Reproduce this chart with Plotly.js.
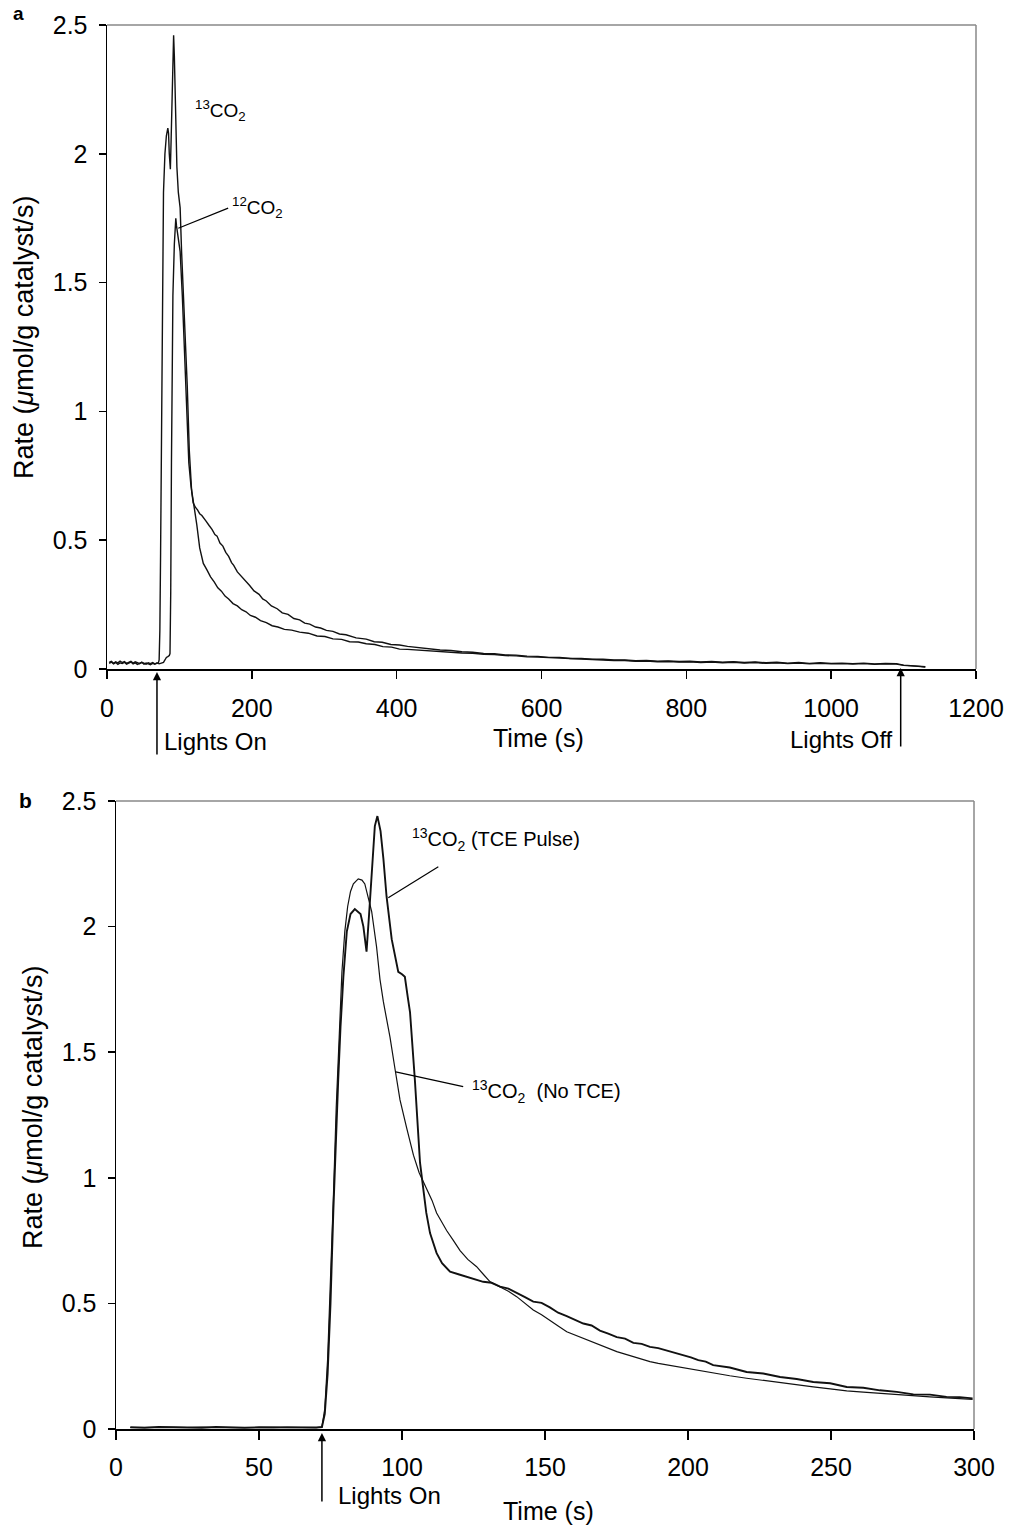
<!DOCTYPE html>
<html>
<head>
<meta charset="utf-8">
<script src="https://cdn.plot.ly/plotly-3.0.1.min.js"></script>
<style>html,body{margin:0;padding:0;background:#fff;}#chart{width:1010px;height:1529px;}</style>
</head>
<body>
<div id="chart"></div>
<script>
// ---------- Panel a : 13CO2 ----------
const a13_t_base = [3,6,9,12,15,18,21,24,27,30,33,36,39,42,45,48,51,54,57,60,63,66,69,71];
const a13_v_base = [0.026,0.03,0.022,0.028,0.024,0.031,0.025,0.029,0.022,0.027,0.03,0.023,0.028,0.025,0.021,0.026,0.023,0.019,0.024,0.021,0.025,0.02,0.022,0.024];
const a13_t_peak = [72,73,74,75,76,77,78,80,82,84,85,86,87.5,88.5,90,92,93,95,96.5,98.5,101,103,105.5,108,110.8,113.6,116.9,119];
const a13_v_peak = [0.035,0.15,0.45,0.85,1.25,1.6,1.85,2.0,2.07,2.1,2.08,2.0,1.94,2.05,2.3,2.46,2.38,2.12,1.95,1.85,1.79,1.62,1.47,1.33,1.1,0.85,0.69,0.645];
const a13_t_tail = [122,125,128,131,134,137,141,145,149,152,156,160,164,168,172,175,180,185,191,197,203,210,215,220,227,235,242,250,258,266,273,280,288,295,303,312,321,330,344,358,369,380,392,404];
const a13_v_tail = [0.628,0.618,0.603,0.596,0.582,0.573,0.557,0.542,0.522,0.516,0.489,0.477,0.453,0.437,0.413,0.402,0.377,0.362,0.343,0.324,0.303,0.29,0.272,0.264,0.245,0.234,0.218,0.212,0.196,0.191,0.178,0.174,0.163,0.159,0.15,0.146,0.136,0.133,0.121,0.116,0.106,0.104,0.095,0.093];
const a_t_late = [415,430,445,460,475,490,505,520,535,550,565,580,595,610,625,640,655,670,685,700,715,730,745,760,775,790,805,820,835,850,865,880,895,910,925,940,955,970,985,1000,1015,1030,1045,1060,1075,1090,1100,1110,1120,1130];
const a13_v_late = [0.088,0.083,0.08,0.074,0.072,0.067,0.065,0.06,0.059,0.055,0.054,0.05,0.049,0.045,0.045,0.041,0.041,0.038,0.038,0.035,0.035,0.032,0.033,0.03,0.031,0.029,0.03,0.027,0.029,0.026,0.028,0.025,0.027,0.024,0.026,0.023,0.025,0.022,0.024,0.022,0.023,0.021,0.023,0.02,0.022,0.021,0.015,0.012,0.011,0.009];

// ---------- Panel a : 12CO2 ----------
const a12_t_base = [3,6,9,12,15,18,21,24,27,30,33,36,39,42,45,48,51,54,57,60,63,66,69,72,75,78];
const a12_v_base = [0.022,0.027,0.02,0.025,0.018,0.024,0.021,0.026,0.019,0.023,0.027,0.02,0.024,0.018,0.022,0.026,0.019,0.023,0.02,0.017,0.022,0.019,0.024,0.02,0.023,0.026];
const a12_t_peak = [80,82,84,86,87,88,89,90,91,93,95,96,97,99,101,104,107,110,113,116,119,121,124,128,133,138];
const a12_v_peak = [0.035,0.045,0.048,0.052,0.06,0.3,0.8,1.2,1.45,1.65,1.75,1.72,1.70,1.67,1.62,1.45,1.22,0.98,0.80,0.71,0.66,0.62,0.56,0.47,0.41,0.385];
const a12_t_tail = [143,148,153,158,163,168,174,180,186,192,198,205,212,220,228,236,245,255,266,278,290,301,312,324,335,347,358,370,381,393,404];
const a12_v_tail = [0.358,0.338,0.315,0.302,0.283,0.272,0.254,0.245,0.23,0.222,0.208,0.201,0.188,0.18,0.168,0.163,0.154,0.151,0.143,0.139,0.128,0.126,0.117,0.115,0.106,0.105,0.098,0.095,0.087,0.085,0.077];
const a12_v_late = [0.076,0.073,0.07,0.068,0.066,0.062,0.061,0.057,0.056,0.052,0.051,0.047,0.046,0.044,0.042,0.04,0.039,0.036,0.036,0.033,0.033,0.03,0.031,0.028,0.029,0.027,0.028,0.025,0.027,0.024,0.026,0.023,0.025,0.022,0.024,0.021,0.023,0.02,0.022,0.02,0.021,0.019,0.021,0.018,0.02,0.019,0.014,0.011,0.01,0.008];

// ---------- Panel b : 13CO2 (TCE Pulse) ----------
const b_t_base = [5,10,15,20,25,30,35,40,45,50,55,60,65,70];
const bT_v_base = [0.007,0.005,0.008,0.006,0.007,0.005,0.008,0.006,0.005,0.007,0.006,0.008,0.005,0.006];
const bT_t_peak = [72,73,74,75,76,77,77.7,78.5,79.5,80.7,82,83.5,84.5,85.5,86.5,87.6,88.5,89.5,90.5,91.4,92.5,93.5,94.6,96.4,98.7,100,101,102,102.8,104.5,105.5,106.3,107.4,108.5,109.8,112.1,114,116.8];
const bT_v_peak = [0.008,0.06,0.22,0.5,0.87,1.2,1.39,1.6,1.8,1.98,2.05,2.07,2.06,2.05,2.0,1.9,2.05,2.25,2.4,2.44,2.38,2.27,2.12,1.95,1.82,1.81,1.8,1.72,1.66,1.39,1.2,1.06,0.96,0.86,0.78,0.7,0.66,0.626];
const bT_t_tail = [120,122.6,125.5,128.4,131.3,134.3,137.2,140.1,143,145.9,148.8,151.7,154.6,157.6,160.5,163.4,166.3,169.2,172.1,175.1,178,180.9,183.8,186.7,189.6,192.5,195.5,198.4,201,203.6,206.2,208.8,214.6,220.5,226.3,232.2,238,243.8,249.7,255.5,261.3,267.1,273,278.8,284.6,290.4,295,299.5];
const bT_v_tail = [0.615,0.606,0.598,0.586,0.582,0.567,0.559,0.543,0.525,0.507,0.502,0.484,0.463,0.449,0.435,0.42,0.412,0.392,0.38,0.366,0.36,0.343,0.339,0.327,0.322,0.313,0.303,0.294,0.285,0.274,0.268,0.254,0.245,0.227,0.221,0.207,0.199,0.187,0.182,0.167,0.164,0.154,0.148,0.138,0.137,0.128,0.127,0.122];

// ---------- Panel b : 13CO2 (No TCE) ----------
const bN_v_base = [0.006,0.007,0.005,0.007,0.006,0.008,0.006,0.005,0.007,0.006,0.005,0.007,0.006,0.005];
const bN_t_peak = [72,73,74,75,76,77,78,79,80,81,82,83,84.7,86,87,88.2,89.4,91.1,92.3,93.5,95.8,97.6,99.3,101.6,104,106,108.6,110.5,112.1,115.6,118,120.3,123,126.1,128.5,130.8];
const bN_v_peak = [0.008,0.08,0.28,0.58,0.92,1.28,1.58,1.82,1.98,2.08,2.14,2.17,2.19,2.185,2.17,2.12,2.06,1.92,1.79,1.70,1.56,1.43,1.31,1.20,1.09,1.02,0.96,0.91,0.86,0.79,0.75,0.71,0.675,0.646,0.615,0.586];
const bN_t_tail = [134.3,137.2,140.1,143,145.9,148.8,151.7,154.6,157.6,160.5,163.4,166.3,169.2,172.1,175.1,178,180.9,183.8,186.7,189.6,192.5,195.5,198.4,203.6,208.8,214.6,220.5,226.3,232.2,238,243.8,249.7,255.5,261.3,267.1,273,278.8,284.6,290.4,295,299.5];
const bN_v_tail = [0.565,0.548,0.527,0.5,0.474,0.455,0.434,0.41,0.387,0.374,0.361,0.347,0.334,0.32,0.308,0.298,0.288,0.277,0.268,0.261,0.255,0.249,0.244,0.233,0.222,0.212,0.202,0.193,0.183,0.176,0.168,0.16,0.152,0.147,0.142,0.136,0.131,0.128,0.124,0.121,0.118];

// tick labels
const aXticks = [0,200,400,600,800,1000,1200];
const bXticks = [0,50,100,150,200,250,300];
const yTicks = [0,0.5,1,1.5,2,2.5];
const yTickText = ['0','0.5','1','1.5','2','2.5'];

const FONT = '"Liberation Sans", Arial, Helvetica, sans-serif';
const W = 1010, H = 1529;
const px = v => v / W;
const py = v => 1 - v / H;

const traces = [
  {x: a13_t_base.concat(a13_t_peak, a13_t_tail, a_t_late), y: a13_v_base.concat(a13_v_peak, a13_v_tail, a13_v_late),
   xaxis:'x', yaxis:'y', mode:'lines', line:{color:'#111', width:1.4}, name:'13CO2'},
  {x: a12_t_base.concat(a12_t_peak, a12_t_tail, a_t_late), y: a12_v_base.concat(a12_v_peak, a12_v_tail, a12_v_late),
   xaxis:'x', yaxis:'y', mode:'lines', line:{color:'#111', width:1.4}, name:'12CO2'},
  {x: b_t_base.concat(bT_t_peak, bT_t_tail), y: bT_v_base.concat(bT_v_peak, bT_v_tail),
   xaxis:'x2', yaxis:'y2', mode:'lines', line:{color:'#111', width:1.9}, name:'TCE Pulse'},
  {x: b_t_base.concat(bN_t_peak, bN_t_tail), y: bN_v_base.concat(bN_v_peak, bN_v_tail),
   xaxis:'x2', yaxis:'y2', mode:'lines', line:{color:'#111', width:1.2}, name:'No TCE'}
];

const axCommon = {
  showgrid:false, zeroline:false, showline:true, linecolor:'#000', linewidth:1.5,
  ticks:'outside', tickcolor:'#000', tickwidth:1.5, mirror:false,
  tickfont:{family:FONT, size:25, color:'#000'}, fixedrange:true
};

const layout = {
  width:W, height:H, margin:{l:0,r:0,t:0,b:0,pad:0},
  paper_bgcolor:'#fff', plot_bgcolor:'#fff', showlegend:false,
  font:{family:FONT, color:'#000', size:25},
  xaxis: Object.assign({}, axCommon, {domain:[px(107), px(976)], range:[0,1200], anchor:'y',
           tickmode:'array', tickvals:aXticks, ticktext:aXticks.map(String), ticklen:8, ticklabelstandoff:8}),
  yaxis: Object.assign({}, axCommon, {domain:[py(669), py(25)], range:[0,2.5], anchor:'x',
           tickmode:'array', tickvals:yTicks, ticktext:yTickText, ticklen:7, ticklabelstandoff:6}),
  xaxis2: Object.assign({}, axCommon, {domain:[px(116), px(974)], range:[0,300], anchor:'y2',
           tickmode:'array', tickvals:bXticks, ticktext:bXticks.map(String), ticklen:9, ticklabelstandoff:6}),
  yaxis2: Object.assign({}, axCommon, {domain:[py(1429), py(801)], range:[0,2.5], anchor:'x2',
           tickmode:'array', tickvals:yTicks, ticktext:yTickText, ticklen:7, ticklabelstandoff:6}),
  shapes: [
    // grey top/right frame, panel a
    {type:'line', xref:'x domain', yref:'y domain', x0:0, x1:1, y0:1, y1:1, line:{color:'#888', width:1.5}},
    {type:'line', xref:'x domain', yref:'y domain', x0:1, x1:1, y0:0, y1:1, line:{color:'#888', width:1.5}},
    // panel b
    {type:'line', xref:'x2 domain', yref:'y2 domain', x0:0, x1:1, y0:1, y1:1, line:{color:'#888', width:1.5}},
    {type:'line', xref:'x2 domain', yref:'y2 domain', x0:1, x1:1, y0:0, y1:1, line:{color:'#888', width:1.5}},
    // leader lines
    {type:'line', xref:'x', yref:'y', x0:98.4, y0:1.711, x1:167.3, y1:1.789, line:{color:'#000', width:1.2}},
    {type:'line', xref:'x2', yref:'y2', x0:95.2, y0:2.115, x1:112.7, y1:2.238, line:{color:'#000', width:1.2}},
    {type:'line', xref:'x2', yref:'y2', x0:97.8, y0:1.422, x1:121.4, y1:1.363, line:{color:'#000', width:1.2}}
  ],
  annotations: [
    // panel letters
    {xref:'paper', yref:'paper', x:px(18), y:py(1), text:'<b>a</b>', showarrow:false, xanchor:'center', yanchor:'top', font:{size:19}},
    {xref:'paper', yref:'paper', x:px(25), y:py(800), text:'<b>b</b>', showarrow:false, xanchor:'center', yanchor:'middle', font:{size:21}},
    // axis titles
    {xref:'paper', yref:'paper', x:px(24), y:py(338), text:'Rate (<i>μ</i>mol/g catalyst/s)', textangle:-90, showarrow:false, xanchor:'center', yanchor:'middle', font:{size:27}},
    {xref:'paper', yref:'paper', x:px(33), y:py(1108), text:'Rate (<i>μ</i>mol/g catalyst/s)', textangle:-90, showarrow:false, xanchor:'center', yanchor:'middle', font:{size:27}},
    {xref:'paper', yref:'paper', x:px(538), y:py(738), text:'Time (s)', showarrow:false, xanchor:'center', yanchor:'middle', font:{size:25}},
    {xref:'paper', yref:'paper', x:px(548), y:py(1511), text:'Time (s)', showarrow:false, xanchor:'center', yanchor:'middle', font:{size:25}},
    // Lights labels
    {xref:'paper', yref:'paper', x:px(162), y:py(742), text:'Lights On', showarrow:false, xanchor:'left', yanchor:'middle', font:{size:24}},
    {xref:'paper', yref:'paper', x:px(895), y:py(740), text:'Lights Off', showarrow:false, xanchor:'right', yanchor:'middle', font:{size:24}},
    {xref:'paper', yref:'paper', x:px(336), y:py(1495), text:'Lights On', showarrow:false, xanchor:'left', yanchor:'middle', font:{size:24}},
    // arrows
    {xref:'x', yref:'paper', x:69, y:py(672), ax:0, ay:84, text:'', showarrow:true, arrowhead:2, arrowsize:1.1, arrowwidth:1.5, arrowcolor:'#000'},
    {xref:'x', yref:'paper', x:1096, y:py(668), ax:0, ay:80, text:'', showarrow:true, arrowhead:2, arrowsize:1.1, arrowwidth:1.5, arrowcolor:'#000'},
    {xref:'x2', yref:'paper', x:72, y:py(1433), ax:0, ay:70, text:'', showarrow:true, arrowhead:2, arrowsize:1.1, arrowwidth:1.5, arrowcolor:'#000'},
    // curve labels
    {xref:'x', yref:'y', x:118.7, y:2.17, text:'<sup>13</sup>CO<sub>2</sub>', showarrow:false, xanchor:'left', yanchor:'middle', font:{size:19}},
    {xref:'x', yref:'y', x:169.8, y:1.79, text:'<sup>12</sup>CO<sub>2</sub>', showarrow:false, xanchor:'left', yanchor:'middle', font:{size:19}},
    {xref:'x2', yref:'y2', x:102.8, y:2.345, text:'<sup>13</sup>CO<sub>2</sub> (TCE Pulse)', showarrow:false, xanchor:'left', yanchor:'middle', font:{size:20}},
    {xref:'x2', yref:'y2', x:123.8, y:1.342, text:'<sup>13</sup>CO<sub>2</sub>  (No TCE)', showarrow:false, xanchor:'left', yanchor:'middle', font:{size:20}}
  ]
};

Plotly.newPlot('chart', traces, layout, {staticPlot:true, displayModeBar:false});
</script>
</body>
</html>
